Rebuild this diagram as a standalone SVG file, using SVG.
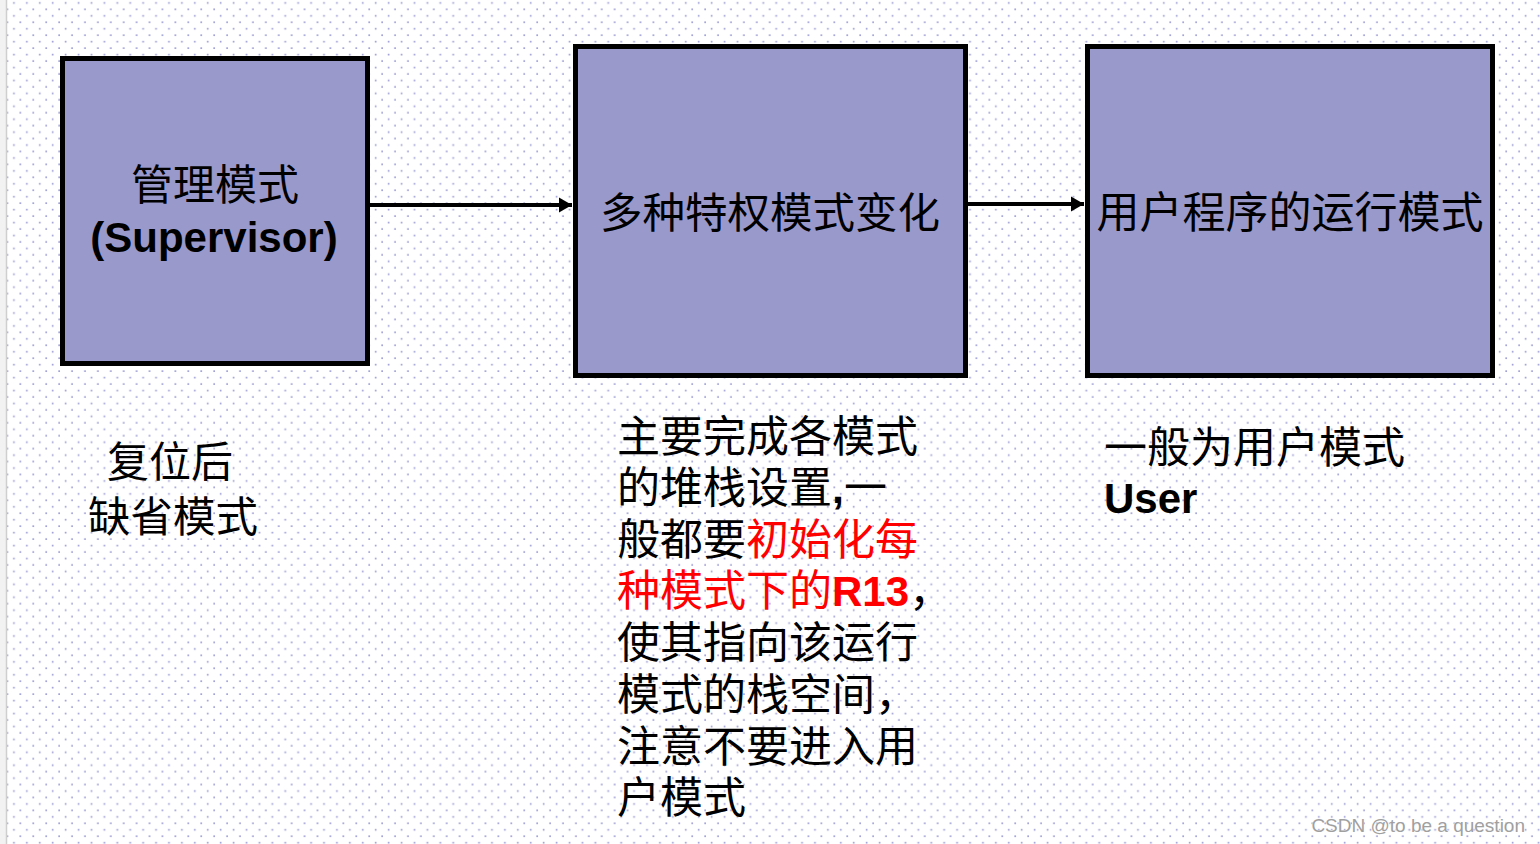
<svg xmlns="http://www.w3.org/2000/svg" width="1540" height="844" viewBox="0 0 1540 844">
<defs>
<pattern id="dots" patternUnits="userSpaceOnUse" x="58" y="47" width="12.92" height="12.92">
<rect x="0.3" y="0.3" width="1.7" height="1.7" fill="#a0a0d6"/>
<rect x="6.76" y="6.76" width="1.7" height="1.7" fill="#a0a0d6"/>
</pattern>
<marker id="arr" markerUnits="userSpaceOnUse" markerWidth="14" markerHeight="16" refX="13" refY="8" orient="auto">
<path d="M0,0.5 L13,8 L0,15.5 Z" fill="#000"/>
</marker>
</defs>
<style>
.box{fill:#9999cc;stroke:#000;stroke-width:5}
.cjk{font-family:"Noto Sans CJK SC","Noto Sans",sans-serif;fill:#000}
.lat{font-family:"Liberation Sans",Arial,sans-serif;font-weight:bold;fill:#000}
.red{fill:#ff0000}
.conn{stroke:#000;stroke-width:4;fill:none}
</style>
<rect width="1540" height="844" fill="#ffffff"/>
<rect width="1540" height="844" fill="url(#dots)"/>
<rect x="0" y="0" width="6" height="844" fill="#f2f2f2"/>
<line x1="6.5" y1="0" x2="6.5" y2="844" stroke="#cfcfcf" stroke-width="1.5"/>

<g id="connectors">
<line class="conn" x1="370" y1="205" x2="572" y2="205" marker-end="url(#arr)"/>
<line class="conn" x1="968" y1="204" x2="1084" y2="204" marker-end="url(#arr)"/>
</g>

<g id="node-supervisor">
<rect class="box" x="62.5" y="58.5" width="305" height="305"/>
<text class="cjk" x="215" y="200" font-size="42" text-anchor="middle">管理模式</text>
<text class="lat" x="214" y="252" font-size="42" text-anchor="middle">(Supervisor)</text>
</g>

<g id="node-privileged">
<rect class="box" x="575.5" y="46.5" width="390" height="329"/>
<text class="cjk" x="770" y="228" font-size="42.5" text-anchor="middle">多种特权模式变化</text>
</g>

<g id="node-user">
<rect class="box" x="1087.5" y="46.5" width="405" height="329"/>
<text class="cjk" x="1290" y="228" font-size="43" text-anchor="middle">用户程序的运行模式</text>
</g>

<g id="note-left">
<text class="cjk" x="107" y="477" font-size="42">复位后</text>
<text class="cjk" x="88" y="532" font-size="42.5">缺省模式</text>
</g>

<g id="note-middle" font-size="43">
<text class="cjk" x="617" y="452">主要完成各模式</text>
<text class="cjk" x="617" y="503">的堆栈设置<tspan class="lat" font-weight="bold">,</tspan>一</text>
<text class="cjk" x="617" y="555">般都要<tspan class="red">初始化每</tspan></text>
<text class="cjk" x="617" y="606"><tspan class="red">种模式下的</tspan><tspan class="lat red" font-size="42">R13</tspan>，</text>
<text class="cjk" x="617" y="658">使其指向该运行</text>
<text class="cjk" x="617" y="710">模式的栈空间，</text>
<text class="cjk" x="617" y="762">注意不要进入用</text>
<text class="cjk" x="617" y="813">户模式</text>
</g>

<g id="note-right">
<text class="cjk" x="1104" y="463" font-size="43">一般为用户模式</text>
<text class="lat" x="1104" y="513" font-size="42">User</text>
</g>

<text x="1525" y="832" font-family="'Liberation Sans',Arial,sans-serif" font-size="19" fill="#a0a0a0" stroke="#ffffff" stroke-width="0.6" paint-order="stroke" text-anchor="end">CSDN @to be a question</text>
</svg>
